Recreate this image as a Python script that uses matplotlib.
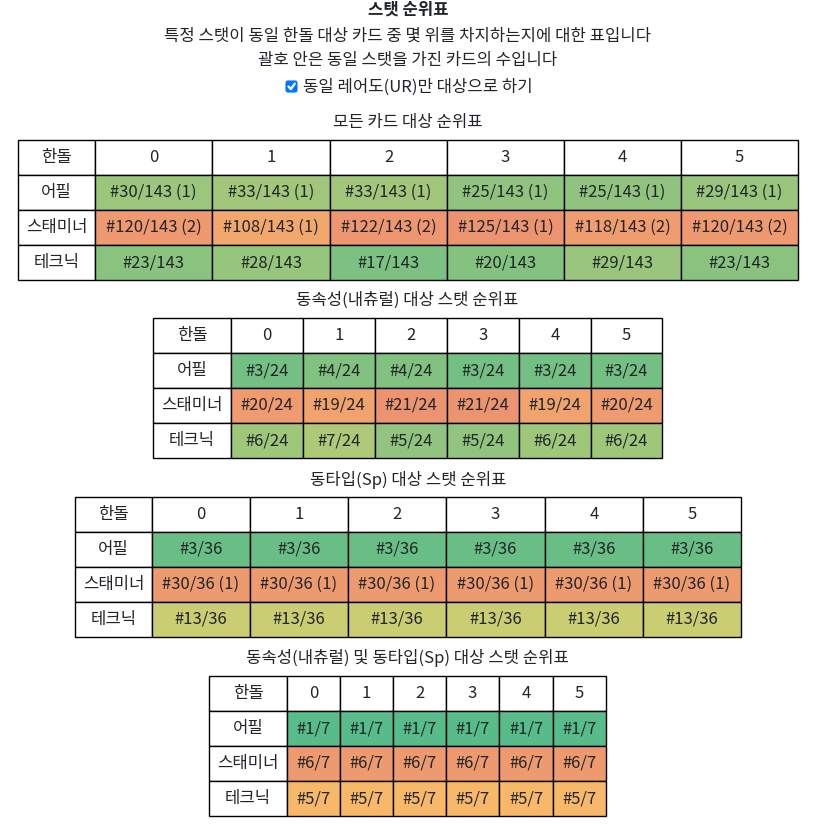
import matplotlib
matplotlib.use('Agg')
import matplotlib.pyplot as plt
from matplotlib.colors import LinearSegmentedColormap, Normalize
from matplotlib.patches import FancyBboxPatch

plt.rcParams['font.family'] = ['Noto Sans CJK KR', 'DejaVu Sans']

W, H = 833, 825

# 행/열 이름
stats = ['어필', '스태미너', '테크닉']
handol = ['0', '1', '2', '3', '4', '5']

# 모든 카드 대상
all_title = '모든 카드 대상 순위표'
all_total = 143
all_rank = [[30, 33, 33, 25, 25, 29],
            [120, 108, 122, 125, 118, 120],
            [23, 28, 17, 20, 29, 23]]
all_ties = [[1, 1, 1, 1, 1, 1],
            [2, 1, 2, 1, 2, 2],
            [0, 0, 0, 0, 0, 0]]

# 동속성(내츄럴) 대상
attr_title = '동속성(내츄럴) 대상 스탯 순위표'
attr_total = 24
attr_rank = [[3, 4, 4, 3, 3, 3],
             [20, 19, 21, 21, 19, 20],
             [6, 7, 5, 5, 6, 6]]
attr_ties = [[0] * 6, [0] * 6, [0] * 6]

# 동타입(Sp) 대상
type_title = '동타입(Sp) 대상 스탯 순위표'
type_total = 36
type_rank = [[3, 3, 3, 3, 3, 3],
             [30, 30, 30, 30, 30, 30],
             [13, 13, 13, 13, 13, 13]]
type_ties = [[0] * 6, [1] * 6, [0] * 6]

# 동속성 및 동타입 대상
both_title = '동속성(내츄럴) 및 동타입(Sp) 대상 스탯 순위표'
both_total = 7
both_rank = [[1, 1, 1, 1, 1, 1],
             [6, 6, 6, 6, 6, 6],
             [5, 5, 5, 5, 5, 5]]
both_ties = [[0] * 6, [0] * 6, [0] * 6]

# 구글 시트 스타일 색상 스케일 (초록 - 노랑 - 빨강)
cmap = LinearSegmentedColormap.from_list('rank', ['#57bb8a', '#ffd666', '#e67c73'])

fig = plt.figure(figsize=(W / 100, H / 100), dpi=100)
ax = fig.add_axes([0, 0, 1, 1])
ax.set_xlim(0, W)
ax.set_ylim(H, 0)
ax.axis('off')

cx = 408
txt = '#212529'
fs = 12

# 상단 설명
ax.text(cx, 10, '스탯 순위표', ha='center', va='center', fontsize=fs, fontweight='bold', color=txt)
ax.text(cx, 36, '특정 스탯이 동일 한돌 대상 카드 중 몇 위를 차지하는지에 대한 표입니다',
        ha='center', va='center', fontsize=fs, color=txt)
ax.text(cx, 61, '괄호 안은 동일 스탯을 가진 카드의 수입니다', ha='center', va='center', fontsize=fs, color=txt)

# 체크박스
ax.add_patch(FancyBboxPatch((286, 81), 11, 11, boxstyle='round,pad=0,rounding_size=2',
                            facecolor='#0075ff', edgecolor='#0075ff', linewidth=0.8))
ax.plot([288.5, 290.8, 294.8], [86.5, 89.2, 83.6], color='white', linewidth=1.6,
        solid_capstyle='round', solid_joinstyle='round')
ax.text(303, 87, '동일 레어도(UR)만 대상으로 하기', ha='left', va='center', fontsize=fs, color=txt)


def draw_table(title, title_y, rank, ties, total, x0, y0, widths, row_h=35):
    norm = Normalize(vmin=1, vmax=total)
    cells = [['한돌'] + handol]
    colors = [['white'] * 7]
    for name, rr, tt in zip(stats, rank, ties):
        row = [name]
        crow = ['white']
        for r, t in zip(rr, tt):
            s = f'#{r}/{total}'
            if t:
                s += f' ({t})'
            row.append(s)
            crow.append(cmap(norm(r)))
        cells.append(row)
        colors.append(crow)
    w = sum(widths)
    h = row_h * len(cells)
    tb = ax.table(cellText=cells, cellColours=colors, cellLoc='center',
                  colWidths=[c / w for c in widths],
                  bbox=[x0 / W, 1 - (y0 + h) / H, w / W, h / H])
    tb.auto_set_font_size(False)
    tb.set_fontsize(fs)
    for cell in tb.get_celld().values():
        cell.set_edgecolor('black')
        cell.set_linewidth(1)
        cell.get_text().set_color(txt)
    ax.text(x0 + w / 2, title_y, title, ha='center', va='center', fontsize=fs, color=txt)


draw_table(all_title, 122, all_rank, all_ties, all_total, 18, 140,
           [77, 117, 118, 117, 117, 117, 117])
draw_table(attr_title, 300, attr_rank, attr_ties, attr_total, 153, 318,
           [78, 72, 72, 72, 72, 72, 71])
draw_table(type_title, 480, type_rank, type_ties, type_total, 75, 497,
           [77, 98, 98, 98, 99, 98, 98])
draw_table(both_title, 658, both_rank, both_ties, both_total, 209, 676,
           [78, 53, 53, 53, 53, 54, 53])

fig.savefig('out.png', dpi=100)
